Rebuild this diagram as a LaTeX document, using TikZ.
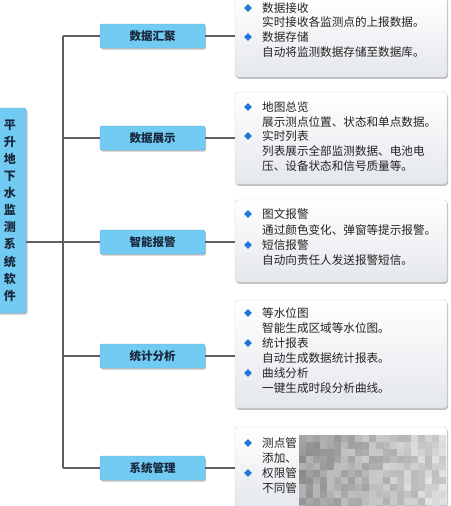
\documentclass[tikz,border=0pt]{standalone}
\usepackage{fontspec}
\setmainfont{Noto Sans CJK SC}
\usetikzlibrary{shadows,shapes.geometric}
\definecolor{catblue}{RGB}{114,203,242}
\definecolor{linegray}{RGB}{95,95,95}
\definecolor{bulblue}{RGB}{30,120,215}
\definecolor{txtc}{RGB}{35,35,35}
\definecolor{cattxt}{RGB}{25,40,60}
\definecolor{boxbot}{RGB}{228,231,236}
\tikzset{
  catbox/.style={draw=catblue!85!black, fill=catblue, rounded corners=1.5pt,
    minimum width=105pt, minimum height=24pt, inner sep=0pt,
    font=\fontsize{11.5}{12}\selectfont\bfseries, text=cattxt,
    drop shadow={shadow xshift=1pt, shadow yshift=-1.5pt, opacity=0.45}},
  rootbox/.style={draw=catblue!85!black, fill=catblue, rounded corners=1.5pt,
    minimum width=32pt, minimum height=205pt, inner sep=0pt, align=center,
    font=\fontsize{12}{17.1}\selectfont\bfseries, text=cattxt,
    drop shadow={shadow xshift=1.5pt, shadow yshift=-1.5pt, opacity=0.45}},
  detbox/.style={draw=black!18, rounded corners=3pt, top color=white, bottom color=boxbot,
    minimum width=212pt, inner sep=0pt,
    drop shadow={shadow xshift=1pt, shadow yshift=-1.8pt, opacity=0.5}},
  conn/.style={draw=linegray, line width=1.3pt},
  bul/.style={diamond, fill=bulblue, inner sep=0pt, minimum size=8pt},
  dtext/.style={anchor=west, inner sep=0pt, text height=10pt, text depth=1.2pt,
    font=\fontsize{11.6}{14}\selectfont, text=txtc},
}
\newcommand\hl[3]{\node[bul] (#1b) at (248,#2) {}; \node[dtext] (#1) at (262,#2) {#3};}
\newcommand\dl[3]{\node[dtext] (#1) at (262,#2) {#3};}
\begin{document}
\begin{tikzpicture}[x=1pt,y=-1pt]
\useasboundingbox (0,0) rectangle (450,506);
\clip (0,0) rectangle (450,506);
\fill[white] (0,0) rectangle (450,506);

% root
\node[rootbox] (root) at (10,210.5) {平\\升\\地\\下\\水\\监\\测\\系\\统\\软\\件};

% categories
\node[catbox] (c1) at (152.5,36) {数据汇聚};
\node[catbox] (c2) at (152.5,138) {数据展示};
\node[catbox] (c3) at (152.5,242) {智能报警};
\node[catbox] (c4) at (152.5,356) {统计分析};
\node[catbox] (c5) at (152.5,468) {系统管理};

% detail boxes
\node[detbox, minimum height=80pt] (d1) at (341,37) {};
\node[detbox, minimum height=92pt] (d2) at (341,138) {};
\node[detbox, minimum height=82pt] (d3) at (341,241) {};
\node[detbox, minimum height=108pt] (d4) at (341,354) {};
\node[detbox, minimum height=81pt] (d5) at (341,467.5) {};

% connectors
\coordinate (rj) at (63,242);
\draw[conn] (rj -| root.east) -- (rj);
\draw[conn] (c1.west -| rj) -- (c5.west -| rj);
\foreach \c/\d in {c1/d1,c2/d2,c3/d3,c4/d4,c5/d5}{
  \draw[conn] (\c.west -| rj) -- (\c.west);
  \draw[conn] (\c.east) -- (\c.east -| \d.west);
}

% box 1
\hl{a1}{8}{数据接收}
\dl{a2}{22}{实时接收各监测点的上报数据。}
\hl{a3}{37}{数据存储}
\dl{a4}{52}{自动将监测数据存储至数据库。}
% box 2
\hl{b1}{107}{地图总览}
\dl{b2}{122}{展示测点位置、状态和单点数据。}
\hl{b3}{136}{实时列表}
\dl{b4}{151}{列表展示全部监测数据、电池电}
\dl{b5}{166}{压、设备状态和信号质量等。}
% box 3
\hl{e1}{214}{图文报警}
\dl{e2}{230}{通过颜色变化、弹窗等提示报警。}
\hl{e3}{245}{短信报警}
\dl{e4}{260}{自动向责任人发送报警短信。}
% box 4
\hl{f1}{313}{等水位图}
\dl{f2}{328}{智能生成区域等水位图。}
\hl{f3}{343}{统计报表}
\dl{f4}{358}{自动生成数据统计报表。}
\hl{f5}{373}{曲线分析}
\dl{f6}{388}{一键生成时段分析曲线。}
% box 5
\hl{g1}{443}{测点管}
\dl{g2}{458}{添加、}
\hl{g3}{473}{权限管}
\dl{g4}{488}{不同管}

% mosaic
\pgfmathsetseed{12}
\foreach \i in {0,...,20}{
  \foreach \j in {0,...,10}{
    \pgfmathsetmacro\g{max(4,8+16*rnd+22*(1-\i/20))}
    \fill[black!\g] (299+7*\i,435+7*\j) rectangle (299+7*\i+7.05,435+7*\j+7.05);
  }
}
\end{tikzpicture}
\end{document}
